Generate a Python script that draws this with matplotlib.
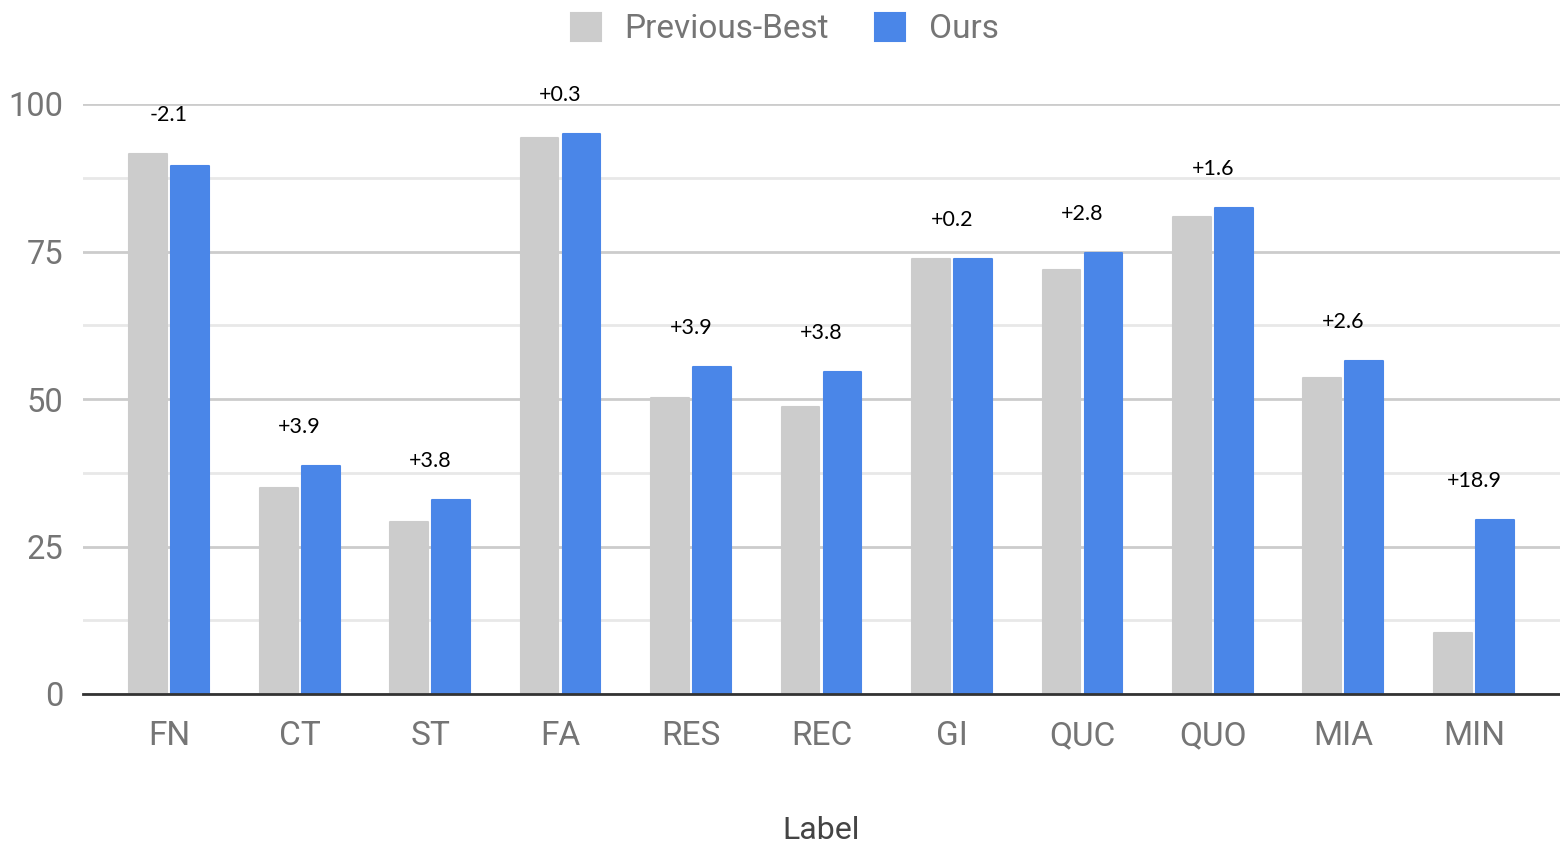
import matplotlib
matplotlib.use("Agg")
import matplotlib.pyplot as plt
import numpy as np

# scores per task
labels = ["FN", "CT", "ST", "FA", "RES", "REC", "GI", "QUC", "QUO", "MIA", "MIN"]
prev_best = [91.5, 34.9, 29.1, 94.3, 50.1, 48.7, 73.7, 71.8, 80.9, 53.5, 10.4]
ours = [89.5, 38.7, 32.9, 94.9, 55.5, 54.6, 73.8, 74.8, 82.4, 56.5, 29.5]
deltas = ["-2.1", "+3.9", "+3.8", "+0.3", "+3.9", "+3.8", "+0.2", "+2.8", "+1.6", "+2.6", "+18.9"]

gray = "#cccccc"
blue = "#4a86e8"
tick_col = "#757575"

fig = plt.figure(figsize=(15.6, 8.43), dpi=100)
ax = fig.add_axes([83 / 1560, 1 - 694 / 843, 1 - 83 / 1560, (694 - 104) / 843])

x = np.arange(len(labels))
w = 0.29
off = 0.161
b1 = ax.bar(x - off, prev_best, w, color=gray, edgecolor=gray, linewidth=1.5,
            joinstyle="round", label="Previous-Best", zorder=3)
b2 = ax.bar(x + off, ours, w, color=blue, edgecolor=blue, linewidth=1.5,
            joinstyle="round", label="Ours", zorder=3)

# improvement labels above each pair
for i, d in enumerate(deltas):
    top = max(prev_best[i], ours[i])
    ax.text(x[i], top + 4.9, d, ha="center", va="bottom", fontsize=15.5,
            family="Lato", color="black")

ax.set_xlim(-0.66, len(labels) - 1 + 0.66)
ax.set_ylim(0, 100)
ax.set_yticks([0, 25, 50, 75, 100])
ax.set_yticks(np.arange(12.5, 100, 25), minor=True)
ax.grid(axis="y", which="major", color="#cccccc", linewidth=2, zorder=0)
ax.grid(axis="y", which="minor", color="#e8e8e8", linewidth=2, zorder=0)
ax.set_axisbelow(True)

for s in ["top", "right", "left"]:
    ax.spines[s].set_visible(False)
ax.spines["bottom"].set_color("#333333")
ax.spines["bottom"].set_linewidth(2)
ax.spines["bottom"].set_zorder(4)

ax.set_xticks(x)
ax.set_xticklabels(labels)
ax.tick_params(axis="x", length=0, pad=19, labelsize=24, labelcolor=tick_col)
ax.tick_params(axis="y", which="both", length=0, pad=14, labelsize=23.5, labelcolor=tick_col)
for t in ax.get_xticklabels() + ax.get_yticklabels():
    t.set_family("Roboto")

ax.set_xlabel("Label", fontsize=23, family="Roboto", color="#444444", labelpad=46)

leg = fig.legend(handles=[b1, b2], loc="upper center", bbox_to_anchor=(0.503, 1.02),
                 ncol=2, frameon=False, prop={"family": "Roboto", "size": 24},
                 handlelength=0.9, handleheight=0.9, handletextpad=0.7,
                 columnspacing=1.4)
for t in leg.get_texts():
    t.set_color(tick_col)

fig.savefig("out.png", dpi=100)
